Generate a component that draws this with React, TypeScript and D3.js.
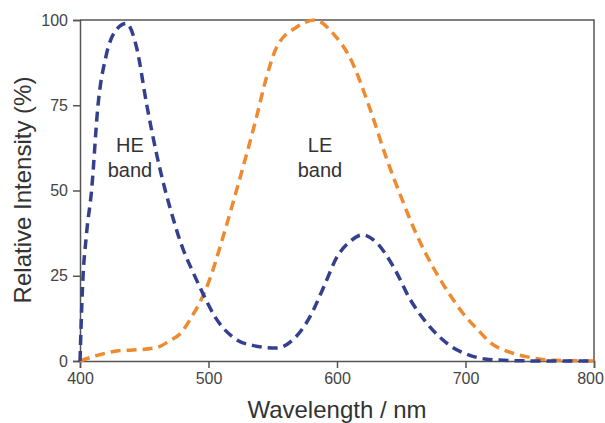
import React, { useRef, useEffect } from "react";
import * as d3 from "d3";

// HE band (blue) spectrum
const heWavelength = [400, 402, 405, 409, 414, 420, 428, 436, 444, 452, 460, 465, 470, 480, 488, 496, 505, 519, 535, 553, 565, 579, 590, 600, 610, 620, 630, 644, 657, 668, 680, 690, 701, 715, 730, 760, 800];
const heIntensity = [0, 22, 37, 50, 75, 89, 97, 99, 92, 75, 60, 52, 45, 33, 26, 19.5, 13, 7, 4.5, 3.8, 6, 13, 22, 30.5, 35, 37, 35, 27.6, 18, 12, 7, 4, 2, 0.6, 0.2, 0, 0];

// LE band (orange) spectrum
const leWavelength = [400, 415, 430, 441, 460, 470, 478, 487, 493, 501, 511, 524, 537, 545, 553, 569, 583, 597, 610, 626, 638, 651, 662, 674, 686, 698, 710, 719, 735, 748, 770, 800];
const leIntensity = [0, 1.8, 3, 3.2, 4, 6, 8, 13, 17, 24, 36, 53, 71, 83, 92, 98, 100, 96, 89, 73.6, 60, 47, 37, 28, 20.5, 14, 9, 5.5, 2.5, 1.2, 0.2, 0];

const xTicks = [400, 500, 600, 700, 800];
const yTicks = [0, 25, 50, 75, 100];

const FONT = "'Liberation Sans', Arial, Helvetica, sans-serif";

const App = () => {
  const svgRef = useRef(null);

  useEffect(() => {
    const width = 605, height = 423;
    const margin = { top: 20, right: 11, bottom: 62, left: 80 };

    const svg = d3.select(svgRef.current)
      .attr("width", width)
      .attr("height", height)
      .style("background", "#fff");

    svg.selectAll("*").remove();

    const x = d3.scaleLinear()
      .domain([400, 800])
      .range([margin.left, width - margin.right]);

    const y = d3.scaleLinear()
      .domain([0, 100])
      .range([height - margin.bottom, margin.top]);

    // frame top + right
    svg.append("path")
      .attr("d", `M${x(400)},${y(100)}H${x(800)}V${y(0)}`)
      .attr("fill", "none")
      .attr("stroke", "#555")
      .attr("stroke-width", 1.5);

    const xAxis = svg.append("g")
      .attr("transform", `translate(0,${y(0)})`)
      .call(d3.axisBottom(x).tickValues(xTicks).tickSize(7).tickPadding(5));

    const yAxis = svg.append("g")
      .attr("transform", `translate(${x(400)},0)`)
      .call(d3.axisLeft(y).tickValues(yTicks).tickSize(7).tickPadding(5));

    [xAxis, yAxis].forEach(g => {
      g.select(".domain").attr("stroke", "#555").attr("stroke-width", 1.5);
      g.selectAll(".tick line").attr("stroke", "#555").attr("stroke-width", 1.5);
      g.selectAll(".tick text")
        .attr("fill", "#444")
        .style("font-family", FONT)
        .style("font-size", "16px");
    });

    // keep the last label inside the page
    xAxis.selectAll(".tick text")
      .filter(d => d === 800)
      .attr("dx", -4);

    const line = d3.line()
      .x(d => x(d[0]))
      .y(d => y(d[1]))
      .curve(d3.curveMonotoneX);

    const series = [
      { xs: leWavelength, ys: leIntensity, color: "#ee8a30" },
      { xs: heWavelength, ys: heIntensity, color: "#34408e" },
    ];

    series.forEach(s => {
      svg.append("path")
        .datum(s.xs.map((w, i) => [w, s.ys[i]]))
        .attr("d", line)
        .attr("fill", "none")
        .attr("stroke", s.color)
        .attr("stroke-width", 3.5)
        .attr("stroke-dasharray", "10,6");
    });

    // band labels
    const labels = [
      { text: ["HE", "band"], cx: 130, y0: 152 },
      { text: ["LE", "band"], cx: 320, y0: 152 },
    ];
    labels.forEach(l => {
      l.text.forEach((t, i) => {
        svg.append("text")
          .attr("x", l.cx)
          .attr("y", l.y0 + i * 25)
          .attr("text-anchor", "middle")
          .attr("fill", "#333")
          .style("font-family", FONT)
          .style("font-size", "20px")
          .text(t);
      });
    });

    // axis titles
    svg.append("text")
      .attr("x", 337)
      .attr("y", 418)
      .attr("text-anchor", "middle")
      .attr("fill", "#333")
      .style("font-family", FONT)
      .style("font-size", "24px")
      .text("Wavelength / nm");

    svg.append("text")
      .attr("transform", "translate(31,190) rotate(-90)")
      .attr("text-anchor", "middle")
      .attr("fill", "#333")
      .style("font-family", FONT)
      .style("font-size", "24px")
      .text("Relative Intensity (%)");
  }, []);

  return (
    <div style={{ position: "absolute", left: 0, top: 0 }}>
      <svg ref={svgRef}></svg>
    </div>
  );
};

export default App;
